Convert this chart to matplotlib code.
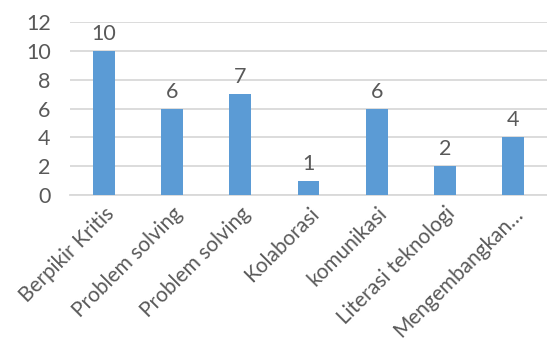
import matplotlib
matplotlib.use("Agg")
import matplotlib.pyplot as plt

categories = ["Berpikir Kritis", "Problem solving", "Problem solving", "Kolaborasi",
              "komunikasi", "Literasi teknologi", "Mengembangkan…"]
values = [10, 6, 7, 1, 6, 2, 4]
yticks = [0, 2, 4, 6, 8, 10, 12]

bar_color = "#5B9BD5"
text_color = "#595959"
grid_color = "#D9D9D9"

plt.rcParams["font.family"] = ["Lato", "DejaVu Sans"]

fig = plt.figure(figsize=(5.47, 3.43), dpi=100)
ax = fig.add_axes([0.128, 0.431, 0.872, 0.505])

x = range(len(categories))
bars = ax.bar(x, values, width=0.32, color=bar_color, zorder=3)

for xi, v in zip(x, values):
    ax.annotate(str(v), (xi, v), xytext=(0, 5), textcoords="offset points",
                ha="center", va="bottom", fontsize=15.5, color=text_color)

ax.set_xlim(-0.5, len(categories) - 0.5)
ax.set_ylim(0, 12)
ax.set_yticks(yticks)
ax.set_yticklabels([str(t) for t in yticks], fontsize=15.5, color=text_color)
ax.set_xticks(list(x))
ax.set_xticklabels(categories, rotation=45, ha="right", rotation_mode="anchor",
                   fontsize=15, color=text_color)

ax.yaxis.grid(True, color=grid_color, linewidth=1.3, zorder=0)
ax.tick_params(axis="y", length=0, pad=14)
ax.tick_params(axis="x", length=0, pad=6)
for side in ["top", "right", "left"]:
    ax.spines[side].set_visible(False)
ax.spines["bottom"].set_color(grid_color)
ax.spines["bottom"].set_linewidth(1.3)

fig.savefig("out.png", dpi=100)
